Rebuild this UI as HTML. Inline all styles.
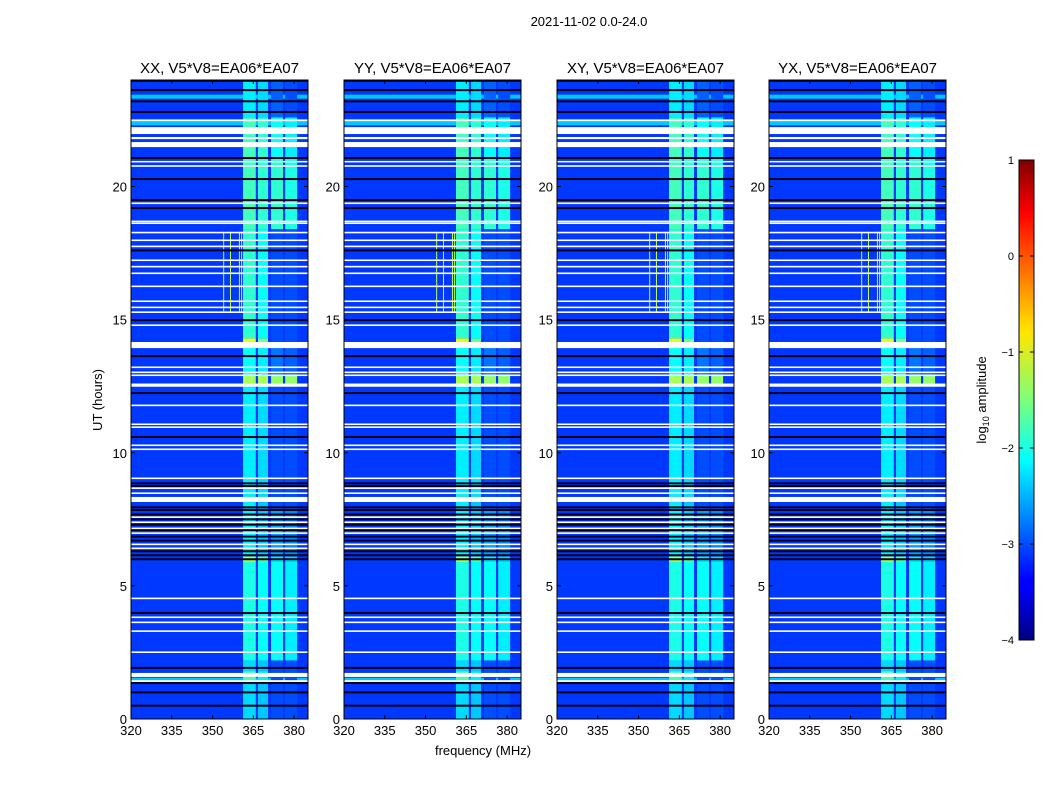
<!DOCTYPE html>
<html><head><meta charset="utf-8">
<style>
body{margin:0;background:#fff;width:1050px;height:800px;overflow:hidden;font-family:"Liberation Sans",sans-serif;}
svg text{font-family:"Liberation Sans","DejaVu Sans",sans-serif;}
</style></head>
<body>
<svg id="fig" width="1050" height="800" viewBox="0 0 1050 800" xmlns="http://www.w3.org/2000/svg">
<defs>
<linearGradient id="jet" x1="0" y1="1" x2="0" y2="0">
<stop offset="0" stop-color="#00007f"/><stop offset="0.11" stop-color="#0000ff"/><stop offset="0.125" stop-color="#0000ff"/>
<stop offset="0.34" stop-color="#00dcff"/><stop offset="0.375" stop-color="#00ffff"/><stop offset="0.5" stop-color="#7dff7a"/>
<stop offset="0.64" stop-color="#ffe600"/><stop offset="0.66" stop-color="#ffd700"/><stop offset="0.89" stop-color="#ff0000"/><stop offset="1" stop-color="#7f0000"/>
</linearGradient>
</defs>
<text x="589" y="26" font-size="13" text-anchor="middle">2021-11-02 0.0-24.0</text>
<g id="panels"></g>
<text x="483" y="755" font-size="13" text-anchor="middle">frequency (MHz)</text>
<text x="0" y="0" font-size="13" text-anchor="middle" transform="translate(102,400) rotate(-90)">UT (hours)</text>
<g>
<rect x="1019" y="160" width="15" height="480" fill="url(#jet)" stroke="#000" stroke-width="1"/>
<g id="cbticks"></g>
<text x="0" y="0" font-size="13" text-anchor="middle" transform="translate(986,400) rotate(-90)">log<tspan font-size="9" dy="3">10</tspan><tspan dy="-3"> amplitude</tspan></text>
</g>
</svg>
<script>
// ---- data ----
const panelTitles = ["XX, V5*V8=EA06*EA07","YY, V5*V8=EA06*EA07","XY, V5*V8=EA06*EA07","YX, V5*V8=EA06*EA07"];
const xTicks = [320,335,350,365,380];
const yTicks = [0,5,10,15,20];
const cbTicks = [1,0,-1,-2,-3,-4];
const bandLo = [361.2,366.7,371.5,376.7];
const bandHi = [365.9,370.4,375.9,381.1];
const segStart = [0,1.4,1.8,2.2,5.9,6.1,7.9,8.15,8.35,12.5,12.9,14.0,14.3,18.4,21.1,22.6];
const segEnd   = [1.4,1.8,2.2,5.9,6.1,7.9,8.15,8.35,12.5,12.9,14.0,14.3,18.4,21.1,22.6,24];
const ampA = [-2.3,-1.8,-2.3,-2.0,-1.2,-2.2,-2.2,-1.0,-2.2,-1.3,-2.1,-1.0,-1.9,-1.8,-1.8,-2.2];
const ampB = [-2.4,-2.2,-2.4,-2.1,-1.6,-2.4,-2.4,-1.0,-2.3,-1.3,-2.2,-1.6,-2.1,-1.9,-1.9,-2.3];
const ampC = [-3.0,-3.0,-3.0,-2.1,-2.2,-2.6,-3.0,-3.0,-3.0,-1.4,-2.8,-3.0,-3.0,-1.9,-2.1,-2.9];
const ampD = [-3.0,-3.0,-3.0,-2.2,-2.3,-2.7,-3.0,-3.0,-3.0,-1.4,-2.9,-3.0,-3.0,-2.0,-2.2,-3.0];
const bgLevel = -3.1;
const cyanRowStart = [23.3,22.3,1.42];
const cyanRowEnd = [23.45,22.45,1.55];
const whiteHi = [22.52,22.23,21.86,21.67,20.96,20.8,19.4,18.72,18.65,18.3,18.01,17.78,17.26,17.02,16.77,16.28,15.72,15.49,15.31,14.82,14.16,13.24,13.05,12.94,12.6,11.81,11.1,10.99,10.31,10.16,9.07,8.7,8.51,8.34,7.61,7.42,7.19,7.01,6.59,6.44,4.56,3.85,3.66,3.33,2.54,1.73,1.46];
const whiteLo = [22.45,21.97,21.78,21.48,20.92,20.74,19.34,18.66,18.59,18.24,17.95,17.72,17.2,16.96,16.71,16.22,15.66,15.43,15.25,14.76,13.93,13.18,12.99,12.88,12.48,11.75,11.04,10.93,10.25,10.1,9.01,8.64,8.45,8.15,7.55,7.36,7.13,6.95,6.53,6.38,4.5,3.79,3.6,3.27,2.48,1.58,1.39];
const darkH = [23.97,23.62,23.2,22.8,21.07,20.28,19.49,19.19,17.6,14.98,13.63,12.24,10.59,8.85,8.75,7.95,7.85,7.68,7.5,7.3,7.1,6.85,6.7,6.3,6.15,6.0,3.98,1.92,1.35,1.0,0.5];
const vlineFreq = [353.9,356.4,359.7,360.5];
const vlineFrom = 15.3, vlineTo = 18.3, vlineAmp = -1.2;

// ---- helpers ----
const NS="http://www.w3.org/2000/svg";
function jet(v){let t=(v+4)/5;t=Math.max(0,Math.min(1,t));
 const c=x=>Math.round(255*Math.max(0,Math.min(1,x)));
 return `rgb(${c(1.5-Math.abs(4*t-3))},${c(1.5-Math.abs(4*t-2))},${c(1.5-Math.abs(4*t-1))})`;}
function mk(tag,attrs,parent){const e=document.createElementNS(NS,tag);for(const k in attrs)e.setAttribute(k,attrs[k]);parent.appendChild(e);return e;}
const lefts=[131,344,557,769], W=177, TOP=80, H=639, FMIN=320, FMAX=385.1;
const panelsG=document.getElementById('panels');
lefts.forEach((L,p)=>{
 const fx=f=>L+(f-FMIN)*W/(FMAX-FMIN);
 const hy=h=>TOP+H-h*H/24;
 const g=mk('g',{},panelsG);
 
 
 const cp=mk('clipPath',{id:'cp'+p},g); mk('rect',{x:L,y:TOP,width:W,height:H},cp);
 const im=mk('g',{'clip-path':`url(#cp${p})`},g);
 const bg=mk('rect',{x:L,y:TOP,width:W,height:H,fill:jet(bgLevel)},im);
  
 cyanRowStart.forEach((s,i)=>{const r=mk('rect',{x:L,y:hy(cyanRowEnd[i]),width:W,height:hy(s)-hy(cyanRowEnd[i]),fill:jet(-2.4)},im);
   });
 const amps=[ampA,ampB,ampC,ampD];
 segStart.forEach((s,i)=>{amps.forEach((a,b)=>{
  const r=mk('rect',{x:fx(bandLo[b]),y:hy(segEnd[i]),width:fx(bandHi[b])-fx(bandLo[b]),height:hy(s)-hy(segEnd[i]),fill:jet(a[i])},im);
   });});
 vlineFreq.forEach(f=>{const r=mk('rect',{x:fx(f),y:hy(vlineTo),width:1,height:hy(vlineFrom)-hy(vlineTo),fill:jet(vlineAmp)},im);
   });
 darkH.forEach(h=>{const r=mk('rect',{x:L,y:hy(h)-1,width:W,height:2,fill:'#000018'},im);
   });
 whiteHi.forEach((h,i)=>{const y0=hy(h),y1=hy(whiteLo[i]);const r=mk('rect',{x:L,y:y0,width:W,height:Math.max(1.5,y1-y0),fill:'#fff'},im);
   });
 const fr=mk('rect',{x:L,y:TOP,width:W,height:H,fill:'none',stroke:'#000','stroke-width':1},g);
  
 const t=mk('text',{x:L+W/2,y:73,'font-size':15,'text-anchor':'middle'},g); t.textContent=panelTitles[p];
  
 xTicks.forEach(v=>{const x=fx(v);
  mk('line',{x1:x,x2:x,y1:TOP+H,y2:TOP+H-4,stroke:'#000'},g);mk('line',{x1:x,x2:x,y1:TOP,y2:TOP+4,stroke:'#000'},g);
  const tx=mk('text',{x:x,y:TOP+H+16,'font-size':13,'text-anchor':'middle'},g);tx.textContent=v;
   });
 yTicks.forEach(v=>{const y=hy(v);
  mk('line',{x1:L,x2:L+4,y1:y,y2:y,stroke:'#000'},g);mk('line',{x1:L+W,x2:L+W-4,y1:y,y2:y,stroke:'#000'},g);
  const tx=mk('text',{x:L-4,y:y+5,'font-size':13,'text-anchor':'end'},g);tx.textContent=v;
   });
});
const cbg=document.getElementById('cbticks');
cbTicks.forEach(v=>{const y=160+(1-v)*96;
 mk('line',{x1:1019,x2:1023,y1:y,y2:y,stroke:'#000'},cbg);mk('line',{x1:1034,x2:1030,y1:y,y2:y,stroke:'#000'},cbg);
 const tx=mk('text',{x:1014,y:y+4,'font-size':11,'text-anchor':'end'},cbg);tx.textContent=v<0?'\u2212'+(-v):v;
  });
</script>
</body></html>
